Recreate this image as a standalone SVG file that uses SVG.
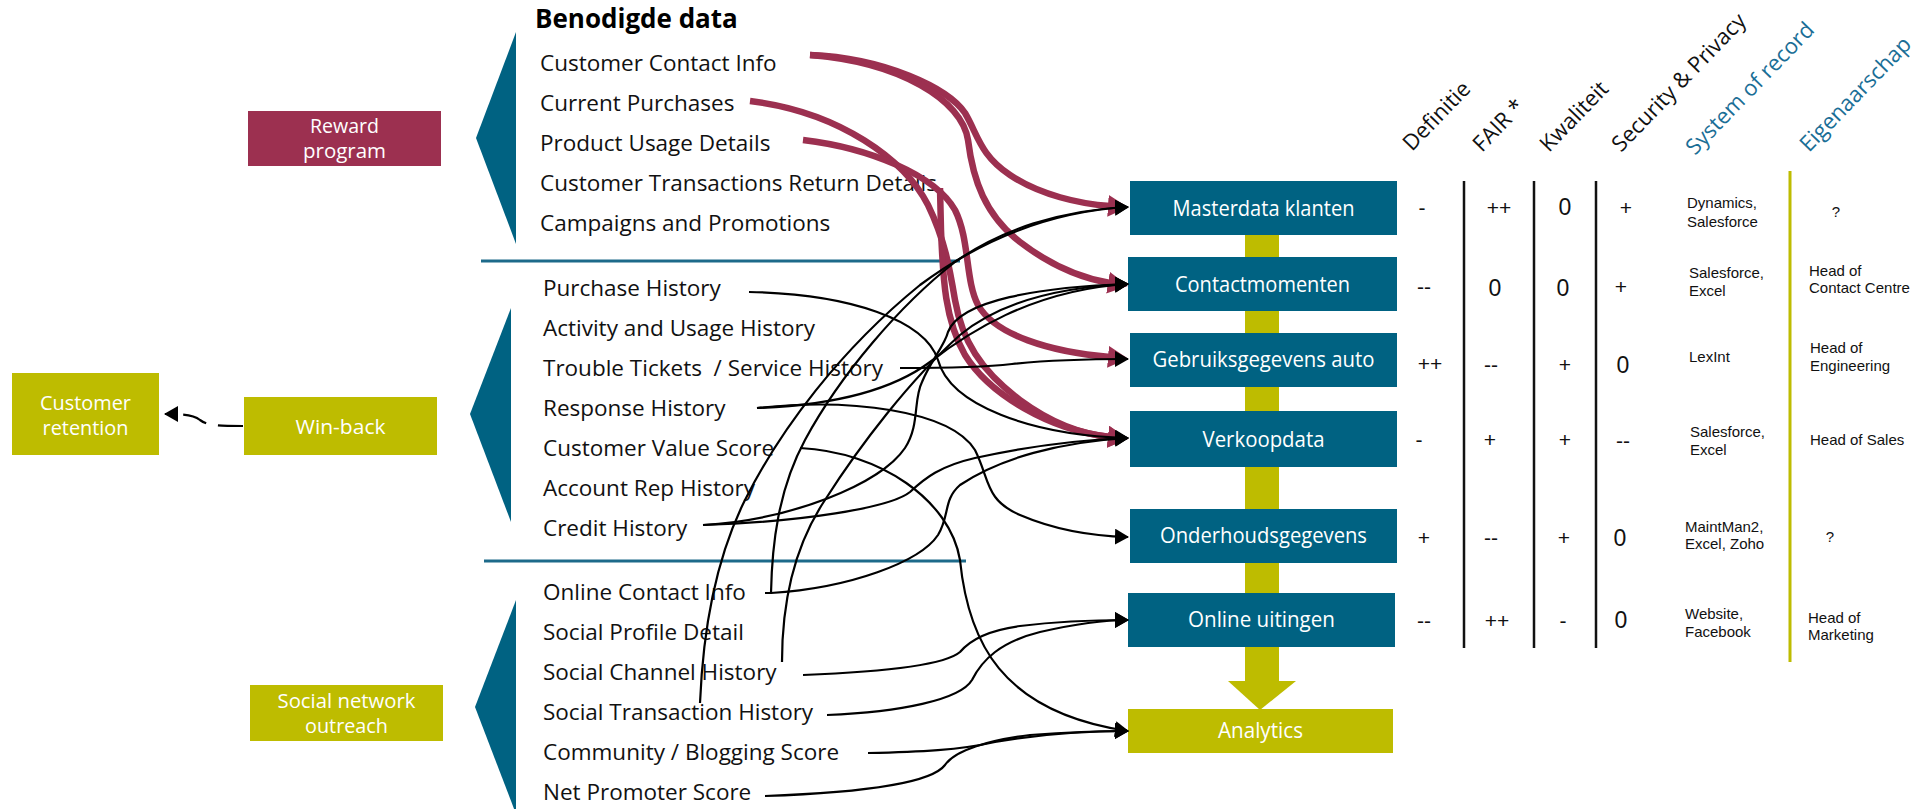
<svg xmlns="http://www.w3.org/2000/svg" width="1920" height="809" viewBox="0 0 1920 809">
<style>
.bg{fill:#ffffff}
.teal{fill:#006282}
.olive{fill:#BEBC00}
.crim{fill:#9C3050}
.item{font-family:"Open Sans","Noto Sans",sans-serif;font-size:22.5px;fill:#111}
.title{font-family:"Open Sans","Noto Sans",sans-serif;font-size:26px;font-weight:bold;fill:#000}
.lbl{font-family:"Open Sans","Noto Sans",sans-serif;font-size:21px;fill:#fff;text-anchor:middle}
.llbl{font-family:"Open Sans","Noto Sans",sans-serif;font-size:20px;fill:#fff;text-anchor:middle}
.hdr{font-family:"Open Sans","Noto Sans",sans-serif;font-size:22px;fill:#111}
.hdrb{font-family:"Open Sans","Noto Sans",sans-serif;font-size:22px;fill:#1A6E96}
.val{font-family:"Liberation Sans",Arial,sans-serif;font-size:21px;fill:#111;text-anchor:middle}
.num{font-size:23px}
.sm{font-family:"Liberation Sans",Arial,sans-serif;font-size:15px;fill:#111}
.sep{stroke:#1D6A8A;stroke-width:3}
.col{stroke:#111;stroke-width:2.5}
.bk{fill:none;stroke:#000;stroke-width:2.2;marker-end:url(#ab)}
.rd{fill:none;stroke:#9C3050;stroke-width:6.5;marker-end:url(#ar)}
</style>
<defs>
<marker id="ab" viewBox="0 0 14 16" refX="13" refY="8" markerWidth="14" markerHeight="16" markerUnits="userSpaceOnUse" orient="auto"><path d="M0,0 L14,8 L0,16 z" fill="#000"/></marker>
<marker id="ar" viewBox="0 0 20 22" refX="2" refY="11" markerWidth="20" markerHeight="22" markerUnits="userSpaceOnUse" orient="auto"><path d="M0,0 L20,11 L0,22 z" fill="#9C3050"/></marker>
</defs>
<rect class="bg" x="0" y="0" width="1920" height="809"/>

<!-- left group boxes -->
<g id="reward-program">
<rect class="crim" x="248" y="111" width="193" height="55"/>
<text class="llbl" x="344.5" y="133" textLength="69" lengthAdjust="spacingAndGlyphs">Reward</text>
<text class="llbl" x="344.5" y="158" textLength="83" lengthAdjust="spacingAndGlyphs">program</text>
</g>
<g id="win-back">
<rect class="olive" x="244" y="397" width="193" height="58"/>
<text class="llbl" x="340.5" y="434" textLength="90" lengthAdjust="spacingAndGlyphs">Win-back</text>
</g>
<g id="customer-retention">
<rect class="olive" x="12" y="373" width="147" height="82"/>
<text class="llbl" x="85.5" y="410" textLength="91" lengthAdjust="spacingAndGlyphs">Customer</text>
<text class="llbl" x="85.5" y="435" textLength="86" lengthAdjust="spacingAndGlyphs">retention</text>
</g>
<g id="social-network-outreach">
<rect class="olive" x="250" y="685" width="193" height="56"/>
<text class="llbl" x="346.5" y="708" textLength="138" lengthAdjust="spacingAndGlyphs">Social network</text>
<text class="llbl" x="346.5" y="733" textLength="83" lengthAdjust="spacingAndGlyphs">outreach</text>
</g>

<!-- data groups -->
<g id="data-reward">
<polygon class="teal" points="516,32 476,138 516,244"/>
<text class="title" x="535" y="28">Benodigde data</text>
<text class="item" x="540" y="71">Customer Contact Info</text>
<text class="item" x="540" y="111">Current Purchases</text>
<text class="item" x="540" y="151">Product Usage Details</text>
<text class="item" x="540" y="191">Customer Transactions Return Details</text>
<text class="item" x="540" y="231">Campaigns and Promotions</text>
</g>
<line class="sep" x1="481" y1="261" x2="960" y2="261"/>
<g id="data-winback">
<polygon class="teal" points="511,308 470,414 511,522"/>
<text class="item" x="543" y="296">Purchase History</text>
<text class="item" x="543" y="336">Activity and Usage History</text>
<text class="item" x="543" y="376" xml:space="preserve">Trouble Tickets  / Service History</text>
<text class="item" x="543" y="416">Response History</text>
<text class="item" x="543" y="456">Customer Value Score</text>
<text class="item" x="543" y="496">Account Rep History</text>
<text class="item" x="543" y="536">Credit History</text>
</g>
<line class="sep" x1="484" y1="561" x2="966" y2="561"/>
<g id="data-social">
<polygon class="teal" points="516,600 475,707 516,814"/>
<text class="item" x="543" y="600">Online Contact Info</text>
<text class="item" x="543" y="640">Social Profile Detail</text>
<text class="item" x="543" y="680">Social Channel History</text>
<text class="item" x="543" y="720">Social Transaction History</text>
<text class="item" x="543" y="760">Community / Blogging Score</text>
<text class="item" x="543" y="800">Net Promoter Score</text>
</g>

<!-- central column -->
<g id="flow-bar">
<rect class="olive" x="1245" y="230" width="34" height="452"/>
<polygon class="olive" points="1228,681 1296,681 1260,710"/>
</g>
<g id="masterdata-klanten">
<rect class="teal" x="1130" y="181" width="267" height="54"/>
<text class="lbl" x="1263.5" y="215.5" textLength="182" lengthAdjust="spacingAndGlyphs">Masterdata klanten</text>
</g>
<g id="contactmomenten">
<rect class="teal" x="1128" y="257" width="269" height="54"/>
<text class="lbl" x="1262.5" y="291.5" textLength="175" lengthAdjust="spacingAndGlyphs">Contactmomenten</text>
</g>
<g id="gebruiksgegevens-auto">
<rect class="teal" x="1130" y="333" width="267" height="54"/>
<text class="lbl" x="1263.5" y="367" textLength="222" lengthAdjust="spacingAndGlyphs">Gebruiksgegevens auto</text>
</g>
<g id="verkoopdata">
<rect class="teal" x="1130" y="411" width="267" height="56"/>
<text class="lbl" x="1263.5" y="446.5" textLength="122" lengthAdjust="spacingAndGlyphs">Verkoopdata</text>
</g>
<g id="onderhoudsgegevens">
<rect class="teal" x="1130" y="509" width="267" height="54"/>
<text class="lbl" x="1263.5" y="543" textLength="207" lengthAdjust="spacingAndGlyphs">Onderhoudsgegevens</text>
</g>
<g id="online-uitingen">
<rect class="teal" x="1128" y="593" width="267" height="54"/>
<text class="lbl" x="1261.5" y="627" textLength="147" lengthAdjust="spacingAndGlyphs">Online uitingen</text>
</g>
<g id="analytics">
<rect class="olive" x="1128" y="709" width="265" height="44"/>
<text class="lbl" x="1260.5" y="738" textLength="85" lengthAdjust="spacingAndGlyphs">Analytics</text>
</g>

<!-- table -->
<g id="table-headers">
<text class="hdr" transform="translate(1412,152) rotate(-46)">Definitie</text>
<text class="hdr" transform="translate(1482,153) rotate(-46)">FAIR *</text>
<text class="hdr" transform="translate(1549,153) rotate(-46)">Kwaliteit</text>
<text class="hdr" transform="translate(1621,153) rotate(-46)">Security &amp; Privacy</text>
<text class="hdrb" transform="translate(1695,156) rotate(-46)">System of record</text>
<text class="hdrb" transform="translate(1809,153) rotate(-46)">Eigenaarschap</text>
</g>
<g id="table-lines">
<line class="col" x1="1464" y1="181" x2="1464" y2="648"/>
<line class="col" x1="1534" y1="181" x2="1534" y2="648"/>
<line class="col" x1="1596" y1="181" x2="1596" y2="648"/>
<line x1="1790" y1="171" x2="1790" y2="662" stroke="#BEBC00" stroke-width="3"/>
</g>
<g id="table-values">
<text class="val" x="1422" y="215">-</text><text class="val" x="1499" y="215">++</text><text class="val num" x="1565" y="215">0</text><text class="val" x="1626" y="215">+</text>
<text class="val" x="1424" y="294">--</text><text class="val num" x="1495" y="296">0</text><text class="val num" x="1563" y="296">0</text><text class="val" x="1621" y="294">+</text>
<text class="val" x="1430" y="371">++</text><text class="val" x="1491" y="372">--</text><text class="val" x="1565" y="372">+</text><text class="val num" x="1623" y="373">0</text>
<text class="val" x="1419" y="447">-</text><text class="val" x="1490" y="447">+</text><text class="val" x="1565" y="447">+</text><text class="val" x="1623" y="448">--</text>
<text class="val" x="1424" y="545">+</text><text class="val" x="1491" y="545">--</text><text class="val" x="1564" y="545">+</text><text class="val num" x="1620" y="546">0</text>
<text class="val" x="1424" y="628">--</text><text class="val" x="1497" y="628">++</text><text class="val" x="1563" y="628">-</text><text class="val num" x="1621" y="628">0</text>
</g>
<g id="table-systems">
<text class="sm" x="1687" y="208">Dynamics,</text><text class="sm" x="1687" y="227">Salesforce</text>
<text class="sm" x="1689" y="278">Salesforce,</text><text class="sm" x="1689" y="296">Excel</text>
<text class="sm" x="1689" y="362">LexInt</text>
<text class="sm" x="1690" y="437">Salesforce,</text><text class="sm" x="1690" y="455">Excel</text>
<text class="sm" x="1685" y="532">MaintMan2,</text><text class="sm" x="1685" y="549">Excel, Zoho</text>
<text class="sm" x="1685" y="619">Website,</text><text class="sm" x="1685" y="637">Facebook</text>
</g>
<g id="table-owners">
<text class="sm" x="1836" y="217" text-anchor="middle">?</text>
<text class="sm" x="1809" y="276">Head of</text><text class="sm" x="1809" y="293">Contact Centre</text>
<text class="sm" x="1810" y="353">Head of</text><text class="sm" x="1810" y="371">Engineering</text>
<text class="sm" x="1810" y="445">Head of Sales</text>
<text class="sm" x="1830" y="542" text-anchor="middle">?</text>
<text class="sm" x="1808" y="623">Head of</text><text class="sm" x="1808" y="640">Marketing</text>
</g>

<!-- connectors -->
<g id="connectors">
<path class="rd" d="M 810,55 C 885,58 948,88 965,113 C 978,135 980,155 1010,175 C 1040,195 1080,204 1110,206"/>
<path class="rd" d="M 810,55 C 900,62 962,100 968,140 C 973,180 985,215 1020,242 C 1050,265 1080,278 1110,283"/>
<path class="rd" d="M 750,101 C 840,112 905,160 928,205 C 945,240 950,270 955,300 C 962,340 980,370 1020,400 C 1050,422 1080,434 1110,437"/>
<path class="rd" d="M 803,140 C 870,148 935,175 955,210 C 970,240 965,280 978,305 C 995,335 1050,352 1110,357"/>
<path class="rd" d="M 940,188 L 941,230 C 943,280 945,320 965,355 C 990,395 1050,430 1110,437"/>

<path class="bk" d="M 700,703 C 703,630 715,560 745,500 C 780,430 840,350 920,285 C 970,248 1040,212 1128,207"/>
<path class="bk" d="M 765,593 L 771,593 C 772,545 778,490 805,440 C 840,375 900,305 955,262 C 1000,230 1060,210 1128,207"/>
<path class="bk" d="M 782,662 C 782,600 795,545 825,500 C 860,445 910,380 960,335 C 1000,302 1060,287 1128,284"/>
<path class="bk" d="M 757,408 C 840,405 895,388 930,362 C 965,335 1030,290 1128,284"/>
<path class="bk" d="M 757,408 C 850,398 950,410 975,450 C 990,480 985,500 1020,515 C 1055,530 1090,536 1128,537"/>
<path class="bk" d="M 703,525 C 790,520 880,485 905,448 C 920,425 913,400 922,382 C 930,362 945,345 948,332 C 960,300 1040,287 1128,284"/>
<path class="bk" d="M 749,292 C 850,294 925,320 938,360 C 950,405 1030,435 1128,438"/>
<path class="bk" d="M 900,368 C 960,368 995,366 1012,364 C 1040,361 1080,359 1128,359"/>
<path class="bk" d="M 703,525 C 800,522 890,508 910,492 C 925,478 940,466 975,458 C 1025,447 1075,440 1128,438"/>
<path class="bk" d="M 771,593 C 850,588 920,562 938,535 C 950,515 943,500 960,485 C 1000,458 1060,442 1128,438"/>
<path class="bk" d="M 800,448 C 880,452 950,500 960,560 C 968,640 1000,712 1128,731"/>
<path class="bk" d="M 803,675 C 880,672 945,665 960,652 C 970,640 990,630 1020,626 C 1060,621 1095,620 1128,620"/>
<path class="bk" d="M 827,715 C 900,712 960,700 972,680 C 982,660 1000,642 1040,632 C 1075,624 1100,620 1128,620"/>
<path class="bk" d="M 868,753 C 920,752 960,750 995,742 C 1035,735 1085,731 1128,731"/>
<path class="bk" d="M 765,796 C 850,793 930,785 945,765 C 955,750 990,740 1030,735 C 1070,732 1100,731 1128,731"/>
<path class="bk" d="M 243,426 C 220,426 208,426 200,420 C 194,415 186,414 165,414" stroke-width="3" stroke-dasharray="25 12"/>
</g>
</svg>
